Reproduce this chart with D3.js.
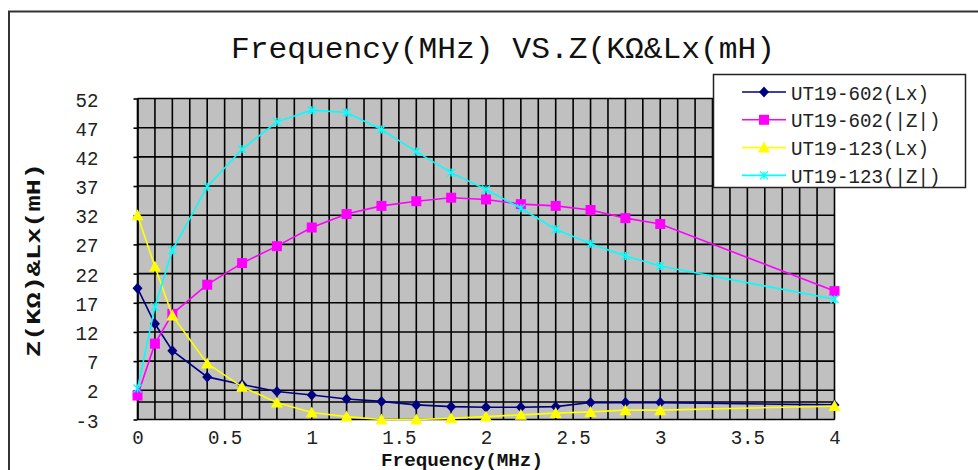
<!DOCTYPE html>
<html><head><meta charset="utf-8">
<script src="https://cdn.jsdelivr.net/npm/d3@7"></script>
<style>html,body{margin:0;padding:0;background:#fff;overflow:hidden}</style>
</head><body>
<svg id="c" width="978" height="470"></svg>
<script>
const freq = [0, 0.1, 0.2, 0.4, 0.6, 0.8, 1.0, 1.2, 1.4, 1.6, 1.8, 2.0, 2.2, 2.4, 2.6, 2.8, 3.0, 4.0];
const lx602 = [19.5, 13.4, 8.8, 4.3, 3.0, 1.8, 1.2, 0.5, 0.1, -0.5, -0.8, -0.9, -0.9, -0.8, -0.1, -0.1, -0.1, -0.5];
const z602 = [1.1, 10.0, 15.1, 20.1, 23.8, 26.7, 29.9, 32.2, 33.6, 34.4, 35.0, 34.7, 33.9, 33.6, 32.9, 31.5, 30.5, 19.0];
const lx123 = [32.0, 23.2, 14.8, 6.6, 2.6, -0.1, -1.8, -2.5, -3.0, -3.0, -2.8, -2.5, -2.2, -1.9, -1.7, -1.4, -1.4, -0.7];
const z123 = [2.3, 16.3, 26.0, 36.9, 43.3, 48.0, 50.0, 49.6, 46.7, 42.9, 39.3, 36.4, 33.2, 29.6, 27.1, 25.0, 23.3, 17.6];
const seriesNames = ["UT19-602(Lx)", "UT19-602(|Z|)", "UT19-123(Lx)", "UT19-123(|Z|)"];
const yTicks = [-3, 2, 7, 12, 17, 22, 27, 32, 37, 42, 47, 52];
const xTicks = [0, 0.5, 1, 1.5, 2, 2.5, 3, 3.5, 4];
const xTickLabels = ["0", "0.5", "1", "1.5", "2", "2.5", "3", "3.5", "4"];
const titleText = "Frequency(MHz) VS.Z(KΩ&Lx(mH)";
const xTitle = "Frequency(MHz)";
const yTitle = "Z(KΩ)&Lx(mH)";

const colors = ["#000080", "#FF00FF", "#FFFF00", "#00FFFF"];
const markers = ["diamond", "square", "triangle", "star"];
const seriesData = [lx602, z602, lx123, z123];

const svg = d3.select("#c");
const x = d3.scaleLinear().domain([0, 4]).range([137.5, 834.5]);
const y = d3.scaleLinear().domain([-3, 52]).range([419.5, 98.5]);
const FONT = "'Liberation Mono','DejaVu Sans Mono',monospace";
const CH = 11.5;

// outer chart border
svg.append("path").attr("d", "M9,470V11.5H978").attr("fill", "none").attr("stroke", "#333").attr("stroke-width", 2);

// title
svg.append("text").attr("x", 231).attr("y", 58).text(titleText)
  .attr("font-family", FONT).attr("font-size", 30).attr("fill", "#111")
  .attr("textLength", 544).attr("lengthAdjust", "spacingAndGlyphs");

// plot area
const [x0, x1] = x.range();
const [yb, yt] = y.range();
svg.append("rect").attr("x", x0).attr("y", yt).attr("width", x1 - x0).attr("height", yb - yt)
  .attr("fill", "#C0C0C0").attr("stroke", "#999").attr("stroke-width", 1);

const grid = svg.append("g").attr("stroke", "#000").attr("stroke-width", 1.6);
d3.range(0, 41).forEach(i => {
  const v = i / 10;
  grid.append("line").attr("x1", x(v)).attr("x2", x(v)).attr("y1", yt).attr("y2", yb);
});
yTicks.concat([0]).forEach(v => {
  grid.append("line").attr("x1", x0).attr("x2", x1).attr("y1", y(v)).attr("y2", y(v));
});

// axes
const yAxis = svg.append("g").attr("transform", `translate(${x0},0)`)
  .call(d3.axisLeft(y).tickValues(yTicks).tickFormat(d => String(d)).tickSizeInner(4).tickSizeOuter(0).tickPadding(35));
yAxis.select(".domain").attr("stroke", "#000").attr("stroke-width", 1.6);
yAxis.selectAll("line").attr("stroke", "#000").attr("stroke-width", 1.6);
yAxis.selectAll("text").attr("font-family", FONT).attr("font-size", 21).attr("fill", "#222").attr("dy", "0.36em")
  .attr("textLength", d => String(d).length * CH).attr("lengthAdjust", "spacingAndGlyphs");

const xAxis = svg.append("g").attr("transform", `translate(0,${yb})`)
  .call(d3.axisBottom(x).tickValues(xTicks).tickFormat((d, i) => xTickLabels[i]).tickSize(0).tickPadding(0));
xAxis.select(".domain").remove();
xAxis.selectAll("text").attr("font-family", FONT).attr("font-size", 21).attr("fill", "#222")
  .attr("y", 17).attr("dy", "0.36em")
  .attr("textLength", (d, i) => xTickLabels[i].length * CH).attr("lengthAdjust", "spacingAndGlyphs");

// axis titles
svg.append("text").attr("x", 462).attr("y", 466).attr("text-anchor", "middle").text(xTitle)
  .attr("font-family", FONT).attr("font-size", 18).attr("font-weight", "bold").attr("fill", "#111")
  .attr("textLength", 162).attr("lengthAdjust", "spacingAndGlyphs");
svg.append("text").attr("transform", "translate(40,260) rotate(-90)").attr("text-anchor", "middle").text(yTitle)
  .attr("font-family", FONT).attr("font-size", 20).attr("font-weight", "bold").attr("fill", "#111")
  .attr("textLength", 194).attr("lengthAdjust", "spacingAndGlyphs");

// marker drawing
function drawMarker(g, type, cx, cy, color) {
  if (type === "diamond") {
    g.append("path").attr("d", `M${cx},${cy - 5.5}L${cx + 5},${cy}L${cx},${cy + 5.5}L${cx - 5},${cy}Z`).attr("fill", color);
  } else if (type === "square") {
    g.append("rect").attr("x", cx - 5).attr("y", cy - 5).attr("width", 10).attr("height", 10).attr("fill", color);
  } else if (type === "triangle") {
    g.append("path").attr("d", `M${cx},${cy - 6}L${cx + 6},${cy + 5}L${cx - 6},${cy + 5}Z`).attr("fill", color);
  } else {
    g.append("path").attr("d", `M${cx - 4},${cy - 4}L${cx + 4},${cy + 4}M${cx - 4},${cy + 4}L${cx + 4},${cy - 4}M${cx},${cy - 4}L${cx},${cy + 4}`)
      .attr("stroke", color).attr("stroke-width", 1.3).attr("fill", "none");
  }
}

const line = d3.line().x(d => x(d[0])).y(d => y(d[1]));
seriesData.forEach((vals, si) => {
  const pts = freq.map((f, i) => [f, vals[i]]);
  const g = svg.append("g");
  g.append("path").attr("d", line(pts)).attr("fill", "none").attr("stroke", colors[si]).attr("stroke-width", 1.6);
  pts.forEach(p => drawMarker(g, markers[si], x(p[0]), y(p[1]), colors[si]));
});

// legend
const lg = svg.append("g");
lg.append("rect").attr("x", 713.5).attr("y", 74.5).attr("width", 252).attr("height", 113)
  .attr("fill", "#fff").attr("stroke", "#222").attr("stroke-width", 1.5);
seriesNames.forEach((name, i) => {
  const cy = 92 + i * 27.8;
  lg.append("line").attr("x1", 742).attr("x2", 786).attr("y1", cy).attr("y2", cy).attr("stroke", colors[i]).attr("stroke-width", 1.6);
  drawMarker(lg, markers[i], 764, cy, colors[i]);
  lg.append("text").attr("x", 791).attr("y", cy).attr("dy", "0.36em").text(name)
    .attr("font-family", FONT).attr("font-size", 21).attr("fill", "#222")
    .attr("textLength", name.length * CH).attr("lengthAdjust", "spacingAndGlyphs");
});
</script>
</body></html>
